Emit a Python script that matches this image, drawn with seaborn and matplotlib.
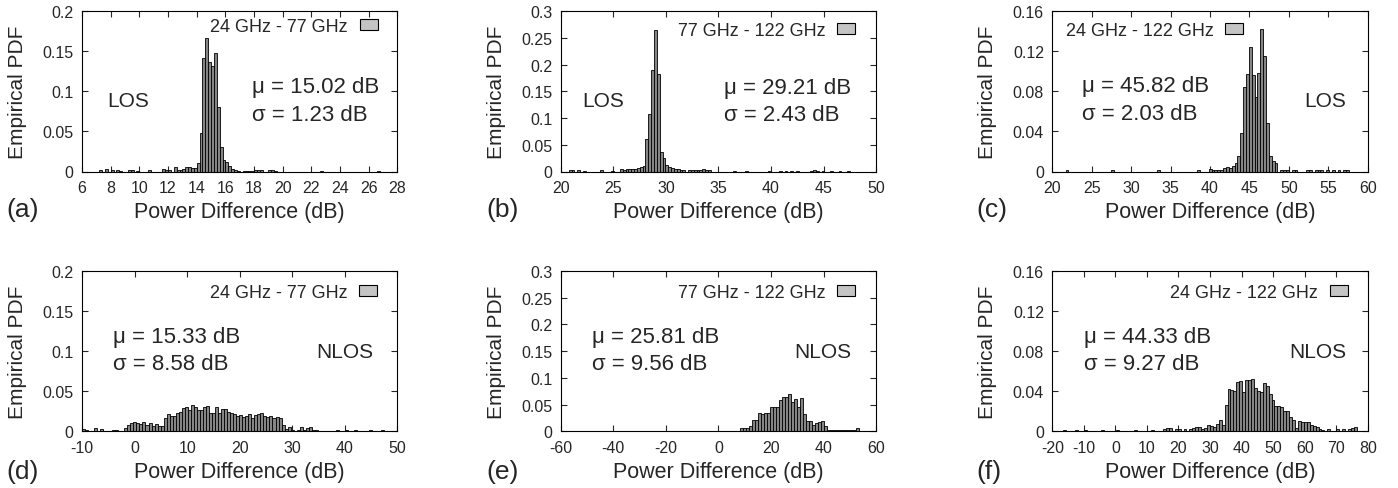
import numpy as np
import pandas as pd
import seaborn as sns
import matplotlib.pyplot as plt
from matplotlib.patches import Patch
from matplotlib.ticker import FuncFormatter

# empirical PDF per histogram bin (100 bins spanning each data range)
a_lo, a_w = 7.2, 0.2
a_pdf = [0.0015, 0, 0.003, 0, 0.0015, 0, 0.0015, 0.001, 0, 0,
         0.0015, 0.0015, 0, 0.001, 0, 0, 0, 0.002, 0, 0,
         0, 0, 0.003, 0.002, 0.002, 0, 0.005, 0.002, 0.002, 0.003,
         0.005, 0.005, 0.004, 0.004, 0.011, 0.0475, 0.141, 0.166, 0.136, 0.131,
         0.148, 0.080, 0.030, 0.014, 0.012, 0.0066, 0.003, 0.002, 0.001, 0,
         0.001, 0.001, 0.001, 0.001, 0.0015, 0.0015, 0.002, 0, 0, 0.0015,
         0.0015, 0.001, 0, 0, 0, 0, 0, 0, 0, 0,
         0, 0, 0, 0, 0, 0, 0, 0.001, 0, 0,
         0, 0, 0, 0, 0, 0, 0, 0, 0, 0,
         0, 0, 0, 0, 0, 0, 0, 0.001, 0, 0]

b_lo, b_w = 20.5, 0.27
b_pdf = [0, 0.002, 0.002, 0, 0.002, 0, 0.0015, 0, 0, 0,
         0, 0, 0.002, 0, 0, 0, 0.001, 0, 0, 0.004,
         0.003, 0.004, 0.004, 0.005, 0.005, 0.006, 0.008, 0.011, 0.061, 0.108,
         0.189, 0.264, 0.183, 0.036, 0.025, 0.012, 0.009, 0.007, 0.005, 0.004,
         0.003, 0.003, 0, 0.002, 0.002, 0.002, 0.003, 0.002, 0.004, 0.003,
         0.002, 0, 0, 0, 0, 0, 0, 0, 0, 0.0015,
         0, 0, 0, 0.0015, 0, 0, 0, 0, 0, 0,
         0, 0.0015, 0, 0, 0, 0.0015, 0, 0.0015, 0, 0.0015,
         0, 0.0015, 0, 0, 0, 0, 0.0015, 0.002, 0.0015, 0,
         0.0015, 0, 0, 0.0015, 0, 0, 0.0015, 0, 0, 0.0015]

c_lo, c_w = 21.32, 0.363
c_pdf = [0, 0.001, 0, 0, 0, 0, 0, 0, 0, 0,
         0, 0, 0, 0, 0, 0, 0, 0.001, 0, 0,
         0, 0, 0, 0, 0, 0, 0, 0, 0, 0,
         0, 0, 0, 0.001, 0, 0, 0, 0, 0, 0,
         0, 0, 0, 0, 0, 0, 0, 0.001, 0, 0,
         0, 0.002, 0.001, 0.001, 0.001, 0.001, 0.003, 0.004, 0.003, 0.005,
         0.008, 0.015, 0.038, 0.084, 0.097, 0.124, 0.096, 0.074, 0.098, 0.142,
         0.115, 0.048, 0.015, 0.010, 0.008, 0, 0.001, 0.001, 0.001, 0,
         0.001, 0.001, 0, 0, 0, 0.001, 0.001, 0, 0.001, 0.001,
         0.001, 0, 0.001, 0, 0.001, 0, 0.001, 0, 0.001, 0.001]

d_lo, d_w = -10.0, 0.575
d_pdf = [0.003, 0.002, 0, 0, 0.004, 0, 0.003, 0, 0, 0,
         0.001, 0.001, 0, 0, 0.004, 0.008, 0.010, 0.012, 0.010, 0.009,
         0.012, 0.008, 0.010, 0.006, 0.009, 0.006, 0.007, 0.017, 0.021, 0.019,
         0.019, 0.023, 0.024, 0.029, 0.030, 0.027, 0.033, 0.030, 0.026, 0.026,
         0.030, 0.032, 0.023, 0.023, 0.030, 0.023, 0.028, 0.028, 0.024, 0.023,
         0.021, 0.019, 0.020, 0.018, 0.019, 0.021, 0.017, 0.020, 0.021, 0.023,
         0.019, 0.018, 0.019, 0.017, 0.018, 0.017, 0.008, 0.003, 0.005, 0.001,
         0, 0.001, 0.005, 0.001, 0.004, 0.005, 0.002, 0.001, 0, 0,
         0, 0, 0, 0, 0.001, 0, 0, 0.001, 0, 0,
         0.001, 0, 0, 0, 0, 0.001, 0, 0, 0, 0.001]

e_lo, e_w = -59.435, 1.13
e_pdf = [0.001, 0, 0, 0, 0, 0.001, 0, 0, 0, 0,
         0, 0.001, 0, 0, 0, 0, 0, 0.001, 0, 0,
         0, 0, 0, 0, 0.001, 0, 0, 0, 0.001, 0,
         0, 0, 0.001, 0, 0, 0, 0, 0.001, 0, 0,
         0, 0, 0.001, 0, 0, 0, 0, 0.001, 0, 0,
         0, 0, 0, 0.001, 0, 0, 0, 0, 0, 0,
         0.006, 0.007, 0.006, 0.009, 0.022, 0.022, 0.035, 0.033, 0.034, 0.034,
         0.046, 0.046, 0.046, 0.058, 0.064, 0.064, 0.069, 0.055, 0.061, 0.046,
         0.063, 0.033, 0.020, 0.020, 0.011, 0.015, 0.017, 0.019, 0.009, 0.002,
         0.002, 0.002, 0.002, 0.002, 0.002, 0.002, 0.002, 0.002, 0.002, 0.007]

f_lo, f_w = -16.535, 0.93
f_pdf = [0.001, 0, 0, 0, 0.001, 0, 0, 0.001, 0, 0,
         0, 0, 0, 0.001, 0, 0, 0, 0, 0.001, 0,
         0, 0, 0, 0, 0.001, 0, 0, 0, 0, 0,
         0.001, 0, 0, 0, 0.002, 0.003, 0.003, 0, 0.002, 0.002,
         0, 0.002, 0, 0.002, 0.003, 0.004, 0.004, 0.002, 0.003, 0.006,
         0.005, 0.004, 0.007, 0.011, 0.006, 0.026, 0.042, 0.041, 0.040, 0.049,
         0.050, 0.039, 0.051, 0.051, 0.052, 0.043, 0.040, 0.039, 0.048, 0.045,
         0.037, 0.031, 0.025, 0.025, 0.024, 0.020, 0.020, 0.014, 0.011, 0.003,
         0.010, 0.009, 0.009, 0.009, 0.006, 0.005, 0.004, 0.002, 0.001, 0,
         0.002, 0, 0, 0.002, 0, 0.002, 0, 0.002, 0.003, 0.004]

pairs = ["24 GHz - 77 GHz", "77 GHz - 122 GHz", "24 GHz - 122 GHz"]
mu = ["15.02", "29.21", "45.82", "15.33", "25.81", "44.33"]
sigma = ["1.23", "2.43", "2.03", "8.58", "9.56", "9.27"]
cond = ["LOS", "LOS", "LOS", "NLOS", "NLOS", "NLOS"]
tags = ["(a)", "(b)", "(c)", "(d)", "(e)", "(f)"]

xlims = [(6, 28), (20, 50), (20, 60), (-10, 50), (-60, 60), (-20, 80)]
xsteps = [2, 5, 5, 10, 20, 10]
ylims = [0.2, 0.3, 0.16, 0.2, 0.3, 0.16]
ysteps = [0.05, 0.05, 0.04, 0.05, 0.05, 0.04]

hists = [(a_lo, a_w, a_pdf), (b_lo, b_w, b_pdf), (c_lo, c_w, c_pdf),
         (d_lo, d_w, d_pdf), (e_lo, e_w, e_pdf), (f_lo, f_w, f_pdf)]

# layout (axes fractions) for texts
stat_xy = [(0.539, 0.53), (0.519, 0.526), (0.093, 0.534),
           (0.0975, 0.593), (0.098, 0.593), (0.1016, 0.593)]
cond_xy = [(0.079, 0.44), (0.068, 0.443), (0.80, 0.444),
           (0.744, 0.496), (0.741, 0.496), (0.751, 0.496)]
leg_anchor = [("center right", (0.937, 0.905)), ("center right", (0.933, 0.879)),
              ("center left", (0.042, 0.877)), ("center right", (0.936, 0.866)),
              ("center right", (0.934, 0.866)), ("center right", (0.937, 0.866))]

sns.set_style("ticks")
plt.rcParams["font.family"] = ["Liberation Sans", "DejaVu Sans"]

fig = plt.figure(figsize=(13.98, 4.89), dpi=100)
lefts = [82 / 1398, 560.7 / 1398, 1052.3 / 1398]
bottoms = [1 - 172.5 / 489, 1 - 432.3 / 489]
w_ax = 315.5 / 1398
h_ax = 160.5 / 489

BAR = "#858585"
KEY = "#c4c4c4"
gfmt = FuncFormatter(lambda v, p: "%g" % round(v, 4))

for i in range(6):
    r, c = divmod(i, 3)
    ax = fig.add_axes([lefts[c], bottoms[r], w_ax, h_ax])
    lo, w, pdf = hists[i]
    pdf = np.asarray(pdf, dtype=float)
    n = len(pdf)
    df = pd.DataFrame({"x": lo + w * (np.arange(n) + 0.5), "pdf": pdf})
    sns.histplot(data=df, x="x", weights="pdf", binwidth=w,
                 binrange=(lo, lo + w * n), ax=ax, color=BAR,
                 edgecolor="black", linewidth=0.6, alpha=1)

    x0, x1 = xlims[i]
    ax.set_xlim(x0, x1)
    ax.set_ylim(0, ylims[i])
    ax.set_xticks(np.arange(x0, x1 + 0.01, xsteps[i]))
    ax.set_yticks(np.arange(0, ylims[i] + 1e-9, ysteps[i]))
    ax.xaxis.set_major_formatter(gfmt)
    ax.yaxis.set_major_formatter(gfmt)
    ax.tick_params(direction="in", top=True, right=True, length=4, width=0.8,
                   labelsize=11.5, pad=6)
    for s in ax.spines.values():
        s.set_linewidth(0.8)
        s.set_color("black")

    ax.set_xlabel("Power Difference (dB)", fontsize=15.5)
    ax.set_ylabel("Empirical PDF", fontsize=15)
    ax.xaxis.set_label_coords(0.5, -0.25)
    ax.xaxis.label.set_va("center")
    ax.yaxis.set_label_coords(-0.205, 0.5)
    ax.yaxis.label.set_va("center")

    sx, sy = stat_xy[i]
    ax.text(sx, sy, "μ = %s dB" % mu[i], transform=ax.transAxes,
            fontsize=16, ha="left", va="center")
    ax.text(sx, sy - 0.172, "σ = %s dB" % sigma[i], transform=ax.transAxes,
            fontsize=16, ha="left", va="center")
    cx, cy = cond_xy[i]
    ax.text(cx, cy, cond[i], transform=ax.transAxes, fontsize=15,
            ha="left", va="center")

    loc, anchor = leg_anchor[i]
    ax.legend(handles=[Patch(facecolor=KEY, edgecolor="black", linewidth=0.8,
                             label=pairs[c])],
              loc=loc, bbox_to_anchor=anchor, frameon=False, fontsize=13,
              markerfirst=False, handlelength=1.0, handleheight=0.55,
              handletextpad=0.65, borderpad=0, borderaxespad=0)

    tag_x = [6.7, 486, 976.7][c] / 1398
    tag_y = 1 - [210, 471.7][r] / 489
    fig.text(tag_x, tag_y, tags[i], fontsize=19, ha="left", va="center")

fig.savefig("out.png", dpi=100)
